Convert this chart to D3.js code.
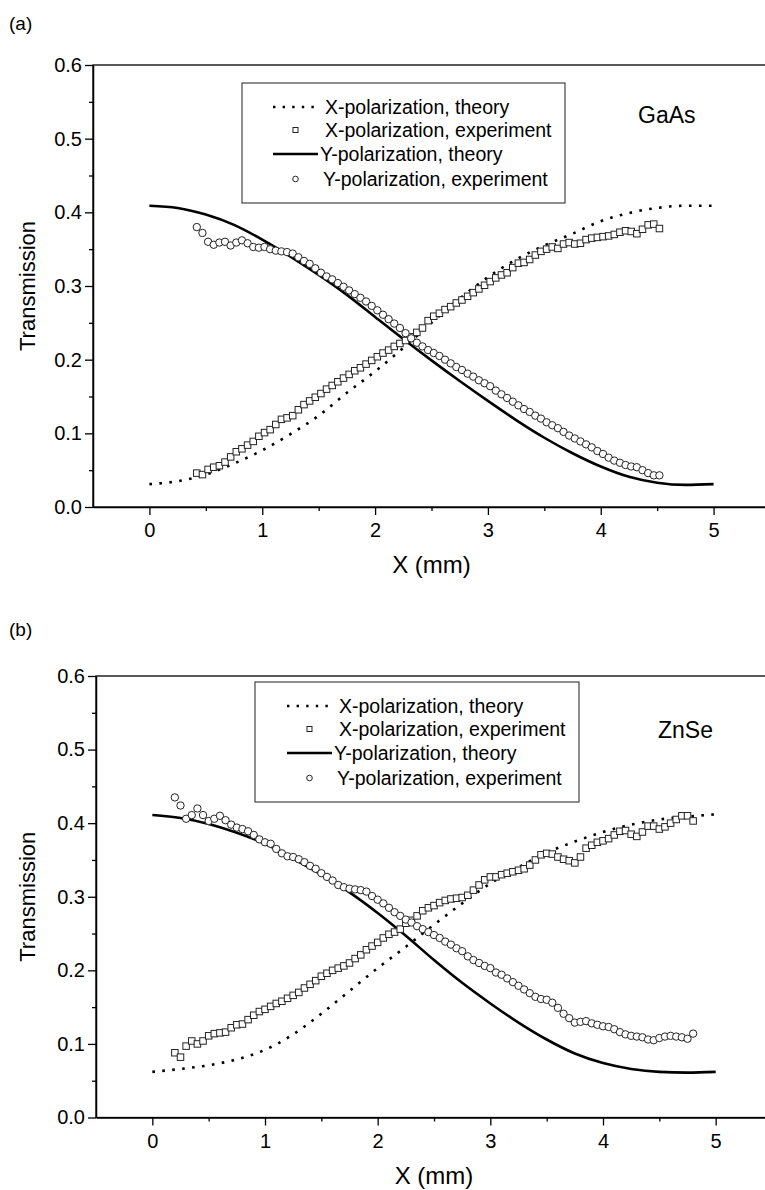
<!DOCTYPE html>
<html>
<head>
<meta charset="utf-8">
<script src="https://cdnjs.cloudflare.com/ajax/libs/d3/7.8.5/d3.min.js"></script>
<style>
  body { margin: 0; background: #fff; }
  svg { display: block; font-family: "Liberation Sans", Arial, sans-serif; }
</style>
</head>
<body>
<div id="chart"></div>
<script>
// Theory curves, sampled along X (mm)
const xTheory = [0, 0.25, 0.5, 0.75, 1, 1.25, 1.5, 1.75, 2, 2.25, 2.5, 2.75, 3, 3.25, 3.5, 3.75, 4, 4.25, 4.5, 4.75, 5];

// (a) GaAs
const gaasXTheory = [0.031, 0.035, 0.044, 0.059, 0.077, 0.099, 0.124, 0.155, 0.184, 0.216, 0.250, 0.283, 0.312, 0.336, 0.355, 0.371, 0.388, 0.399, 0.406, 0.409, 0.409];
const gaasYTheory = [0.409, 0.406, 0.397, 0.383, 0.363, 0.340, 0.315, 0.288, 0.258, 0.228, 0.199, 0.171, 0.144, 0.118, 0.094, 0.073, 0.055, 0.041, 0.033, 0.030, 0.031];

const gaasXPos = [
  0.42, 0.47, 0.52, 0.57, 0.62, 0.67, 0.72, 0.77, 0.82, 0.87,
  0.92, 0.97, 1.02, 1.07, 1.12, 1.17, 1.22, 1.27, 1.32, 1.37,
  1.42, 1.47, 1.52, 1.57, 1.62, 1.67, 1.72, 1.77, 1.82, 1.87,
  1.92, 1.97, 2.02, 2.07, 2.12, 2.17, 2.22, 2.27, 2.32, 2.37,
  2.42, 2.47, 2.52, 2.57, 2.62, 2.67, 2.72, 2.77, 2.82, 2.87,
  2.92, 2.97, 3.02, 3.07, 3.12, 3.17, 3.22, 3.27, 3.32, 3.37,
  3.42, 3.47, 3.52, 3.57, 3.62, 3.67, 3.72, 3.77, 3.82, 3.87,
  3.92, 3.97, 4.02, 4.07, 4.12, 4.17, 4.22, 4.27, 4.32, 4.37,
  4.42, 4.47, 4.52
];
const gaasXExp = [
  0.046, 0.044, 0.051, 0.054, 0.056, 0.061, 0.068, 0.075, 0.079, 0.084,
  0.089, 0.096, 0.101, 0.105, 0.112, 0.119, 0.121, 0.124, 0.132, 0.139,
  0.144, 0.149, 0.154, 0.160, 0.165, 0.170, 0.175, 0.180, 0.185, 0.189,
  0.194, 0.199, 0.204, 0.209, 0.213, 0.218, 0.222, 0.226, 0.231, 0.237,
  0.243, 0.253, 0.259, 0.263, 0.268, 0.272, 0.277, 0.281, 0.286, 0.291,
  0.296, 0.301, 0.306, 0.311, 0.315, 0.318, 0.325, 0.331, 0.332, 0.336,
  0.342, 0.347, 0.350, 0.353, 0.351, 0.357, 0.359, 0.357, 0.358, 0.363,
  0.365, 0.366, 0.367, 0.368, 0.370, 0.373, 0.375, 0.374, 0.371, 0.377,
  0.383, 0.384, 0.378
];
const gaasYExp = [
  0.380, 0.372, 0.360, 0.356, 0.359, 0.360, 0.355, 0.359, 0.362, 0.358,
  0.353, 0.352, 0.353, 0.350, 0.348, 0.347, 0.346, 0.344, 0.339, 0.334,
  0.330, 0.324, 0.318, 0.313, 0.309, 0.304, 0.299, 0.294, 0.289, 0.284,
  0.279, 0.273, 0.267, 0.261, 0.255, 0.249, 0.243, 0.236, 0.229, 0.223,
  0.218, 0.213, 0.209, 0.205, 0.200, 0.195, 0.190, 0.186, 0.181, 0.177,
  0.172, 0.168, 0.164, 0.158, 0.153, 0.148, 0.143, 0.138, 0.133, 0.129,
  0.124, 0.120, 0.115, 0.111, 0.107, 0.102, 0.097, 0.093, 0.089, 0.085,
  0.081, 0.076, 0.072, 0.067, 0.063, 0.060, 0.057, 0.055, 0.054, 0.050,
  0.046, 0.043, 0.043
];

// (b) ZnSe
const znseXTheory = [0.062, 0.066, 0.071, 0.079, 0.092, 0.113, 0.141, 0.172, 0.203, 0.232, 0.262, 0.291, 0.318, 0.340, 0.360, 0.375, 0.388, 0.398, 0.405, 0.409, 0.412];
const znseYTheory = [0.411, 0.407, 0.399, 0.387, 0.372, 0.352, 0.330, 0.306, 0.278, 0.247, 0.214, 0.183, 0.155, 0.129, 0.106, 0.087, 0.074, 0.066, 0.062, 0.061, 0.062];

const znseXPos = [
  0.20, 0.25, 0.30, 0.35, 0.40, 0.45, 0.50, 0.55, 0.60, 0.65,
  0.70, 0.75, 0.80, 0.85, 0.90, 0.95, 1.00, 1.05, 1.10, 1.15,
  1.20, 1.25, 1.30, 1.35, 1.40, 1.45, 1.50, 1.55, 1.60, 1.65,
  1.70, 1.75, 1.80, 1.85, 1.90, 1.95, 2.00, 2.05, 2.10, 2.15,
  2.20, 2.25, 2.30, 2.35, 2.40, 2.45, 2.50, 2.55, 2.60, 2.65,
  2.70, 2.75, 2.80, 2.85, 2.90, 2.95, 3.00, 3.05, 3.10, 3.15,
  3.20, 3.25, 3.30, 3.35, 3.40, 3.45, 3.50, 3.55, 3.60, 3.65,
  3.70, 3.75, 3.80, 3.85, 3.90, 3.95, 4.00, 4.05, 4.10, 4.15,
  4.20, 4.25, 4.30, 4.35, 4.40, 4.45, 4.50, 4.55, 4.60, 4.65,
  4.70, 4.75, 4.80
];
const znseXExp = [
  0.088, 0.082, 0.097, 0.104, 0.100, 0.104, 0.111, 0.114, 0.115, 0.116,
  0.122, 0.126, 0.127, 0.133, 0.139, 0.144, 0.147, 0.151, 0.155, 0.158,
  0.162, 0.166, 0.170, 0.176, 0.181, 0.186, 0.192, 0.196, 0.200, 0.203,
  0.206, 0.210, 0.216, 0.221, 0.228, 0.233, 0.238, 0.244, 0.249, 0.252,
  0.256, 0.264, 0.268, 0.274, 0.281, 0.285, 0.288, 0.292, 0.295, 0.297,
  0.298, 0.299, 0.302, 0.309, 0.316, 0.323, 0.327, 0.327, 0.330, 0.332,
  0.334, 0.336, 0.338, 0.343, 0.350, 0.357, 0.359, 0.358, 0.354, 0.351,
  0.349, 0.346, 0.354, 0.366, 0.370, 0.374, 0.376, 0.379, 0.384, 0.389,
  0.390, 0.385, 0.382, 0.388, 0.396, 0.396, 0.392, 0.395, 0.400, 0.405,
  0.410, 0.410, 0.403
];
const znseYExp = [
  0.435, 0.424, 0.406, 0.411, 0.420, 0.411, 0.403, 0.406, 0.410, 0.404,
  0.398, 0.394, 0.392, 0.389, 0.384, 0.378, 0.374, 0.372, 0.365, 0.359,
  0.355, 0.354, 0.351, 0.347, 0.342, 0.338, 0.332, 0.327, 0.322, 0.316,
  0.313, 0.311, 0.310, 0.309, 0.307, 0.301, 0.296, 0.291, 0.285, 0.279,
  0.274, 0.269, 0.265, 0.260, 0.256, 0.252, 0.248, 0.244, 0.239, 0.235,
  0.230, 0.226, 0.219, 0.214, 0.210, 0.206, 0.203, 0.197, 0.194, 0.189,
  0.184, 0.179, 0.174, 0.169, 0.164, 0.161, 0.160, 0.156, 0.149, 0.141,
  0.135, 0.129, 0.130, 0.131, 0.128, 0.126, 0.124, 0.123, 0.120, 0.116,
  0.113, 0.111, 0.110, 0.109, 0.106, 0.105, 0.108, 0.110, 0.111, 0.110,
  0.109, 0.107, 0.114
];

// Axis ticks and legend text
const xMajorTicks = [0, 1, 2, 3, 4, 5];
const xMinorTicks = [0.5, 1.5, 2.5, 3.5, 4.5, 5.5];
const yMajorTicks = [0, 0.1, 0.2, 0.3, 0.4, 0.5, 0.6];
const yMinorTicks = [0.05, 0.15, 0.25, 0.35, 0.45, 0.55];
const legendLabels = [
  'X-polarization, theory',
  'X-polarization, experiment',
  'Y-polarization, theory',
  'Y-polarization, experiment'
];

const width = 765;
const height = 1190;

const svg = d3.select('#chart')
  .append('svg')
  .attr('width', width)
  .attr('height', height);

const panels = [
  {
    tag: '(a)', tagY: 30, material: 'GaAs', matX: 638, matY: 123,
    left: 93, right: 770, top: 65, bottom: 507,
    legend: { x: 242, y: 83, w: 323, h: 120, lineX: 273 },
    xTheoryVals: gaasXTheory, yTheoryVals: gaasYTheory,
    xPos: gaasXPos, xExp: gaasXExp, yExp: gaasYExp
  },
  {
    tag: '(b)', tagY: 636, material: 'ZnSe', matX: 658, matY: 738,
    left: 96, right: 772, top: 676, bottom: 1117.5,
    legend: { x: 255, y: 682, w: 324, h: 120, lineX: 287 },
    xTheoryVals: znseXTheory, yTheoryVals: znseYTheory,
    xPos: znseXPos, xExp: znseXExp, yExp: znseYExp
  }
];

panels.forEach(drawPanel);

function drawPanel(p) {
  const x = d3.scaleLinear().domain([-0.5, 5.5]).range([p.left, p.right]);
  const y = d3.scaleLinear().domain([0, 0.6]).range([p.bottom, p.top]);
  const g = svg.append('g');

  // panel tag
  g.append('text')
    .attr('x', 9)
    .attr('y', p.tagY)
    .attr('font-size', 19)
    .text(p.tag);

  // frame (top and right edges; right one falls off the page)
  g.append('rect')
    .attr('x', x(-0.5))
    .attr('y', y(0.6))
    .attr('width', x(5.5) - x(-0.5))
    .attr('height', y(0) - y(0.6))
    .attr('fill', 'none')
    .attr('stroke', '#000')
    .attr('stroke-width', 1.3);

  // axes
  const xAxis = g.append('g')
    .attr('transform', `translate(0,${y(0)})`)
    .call(d3.axisBottom(x).tickValues(xMajorTicks).tickSize(8).tickSizeOuter(0).tickPadding(8).tickFormat(d3.format('d')));
  g.append('g')
    .attr('transform', `translate(0,${y(0)})`)
    .call(d3.axisBottom(x).tickValues(xMinorTicks).tickSize(4).tickFormat(''))
    .call((a) => a.select('.domain').remove());

  const yAxis = g.append('g')
    .attr('transform', `translate(${x(-0.5)},0)`)
    .call(d3.axisLeft(y).tickValues(yMajorTicks).tickSize(8).tickSizeOuter(0).tickPadding(3).tickFormat(d3.format('.1f')));
  g.append('g')
    .attr('transform', `translate(${x(-0.5)},0)`)
    .call(d3.axisLeft(y).tickValues(yMinorTicks).tickSize(4).tickFormat(''))
    .call((a) => a.select('.domain').remove());

  g.selectAll('.domain').attr('stroke-width', 1.5);
  g.selectAll('.tick line').attr('stroke-width', 1.3);
  xAxis.selectAll('text').attr('font-size', 20).attr('font-family', 'Liberation Sans, Arial, sans-serif');
  yAxis.selectAll('text').attr('font-size', 20).attr('font-family', 'Liberation Sans, Arial, sans-serif');

  // axis titles
  g.append('text')
    .attr('x', x(2.5))
    .attr('y', p.bottom + 66)
    .attr('text-anchor', 'middle')
    .attr('font-size', 24)
    .text('X (mm)');
  g.append('text')
    .attr('transform', `translate(35,${(p.top + p.bottom) / 2}) rotate(-90)`)
    .attr('text-anchor', 'middle')
    .attr('font-size', 22)
    .text('Transmission');

  // theory lines
  const line = d3.line()
    .x((d, i) => x(xTheory[i]))
    .y((d) => y(d))
    .curve(d3.curveMonotoneX);

  g.append('path')
    .attr('d', line(p.xTheoryVals))
    .attr('fill', 'none')
    .attr('stroke', '#000')
    .attr('stroke-width', 2.6)
    .attr('stroke-dasharray', '2.6,7.4');
  g.append('path')
    .attr('d', line(p.yTheoryVals))
    .attr('fill', 'none')
    .attr('stroke', '#000')
    .attr('stroke-width', 2.6);

  // experiment markers
  const sq = 6.5;
  g.append('g')
    .selectAll('rect')
    .data(p.xExp)
    .enter()
    .append('rect')
    .attr('x', (d, i) => x(p.xPos[i]) - sq / 2)
    .attr('y', (d) => y(d) - sq / 2)
    .attr('width', sq)
    .attr('height', sq)
    .attr('fill', '#fff')
    .attr('stroke', '#222')
    .attr('stroke-width', 1);

  g.append('g')
    .selectAll('circle')
    .data(p.yExp)
    .enter()
    .append('circle')
    .attr('cx', (d, i) => x(p.xPos[i]))
    .attr('cy', (d) => y(d))
    .attr('r', 3.7)
    .attr('fill', '#fff')
    .attr('stroke', '#222')
    .attr('stroke-width', 1);

  // legend
  const L = p.legend;
  const lg = g.append('g');
  lg.append('rect')
    .attr('x', L.x)
    .attr('y', L.y)
    .attr('width', L.w)
    .attr('height', L.h)
    .attr('fill', '#fff')
    .attr('stroke', '#444')
    .attr('stroke-width', 1.2);

  const rowY = [24, 47, 71, 96];
  const sampleW = 45;
  const textOffset = [7, 7, 2, 5];
  legendLabels.forEach((label, i) => {
    const cy = L.y + rowY[i];
    const cx = L.lineX + sampleW / 2;
    if (i === 0) {
      lg.append('line')
        .attr('x1', L.lineX).attr('x2', L.lineX + sampleW)
        .attr('y1', cy).attr('y2', cy)
        .attr('stroke', '#000')
        .attr('stroke-width', 2.4)
        .attr('stroke-dasharray', '2.4,7.2');
    } else if (i === 1) {
      lg.append('rect')
        .attr('x', cx - 2.5).attr('y', cy - 2.5)
        .attr('width', 5).attr('height', 5)
        .attr('fill', '#fff').attr('stroke', '#222').attr('stroke-width', 1);
    } else if (i === 2) {
      lg.append('line')
        .attr('x1', L.lineX).attr('x2', L.lineX + sampleW)
        .attr('y1', cy).attr('y2', cy)
        .attr('stroke', '#000')
        .attr('stroke-width', 2.6);
    } else {
      lg.append('circle')
        .attr('cx', cx).attr('cy', cy).attr('r', 2.8)
        .attr('fill', '#fff').attr('stroke', '#222').attr('stroke-width', 1);
    }
    lg.append('text')
      .attr('x', L.lineX + sampleW + textOffset[i])
      .attr('y', cy + 7)
      .attr('font-size', 19.5)
      .text(label);
  });

  // material label
  g.append('text')
    .attr('x', p.matX)
    .attr('y', p.matY)
    .attr('font-size', 23)
    .text(p.material);
}
</script>
</body>
</html>
